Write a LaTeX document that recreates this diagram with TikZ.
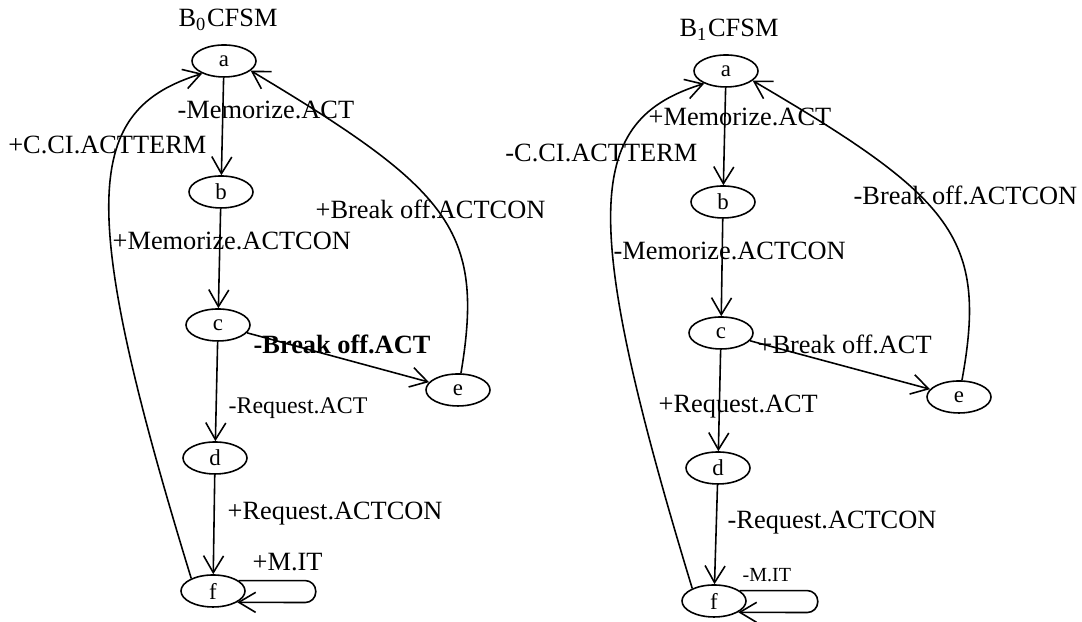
\documentclass[tikz,border=0pt]{standalone}
\usepackage{fontspec}
\setmainfont{Liberation Serif}
\usetikzlibrary{shapes.geometric,arrows.meta}

\tikzset{
  state/.style={ellipse, draw, line width=0.45pt, minimum width=0.64cm,
    minimum height=0.32cm, inner sep=0pt, font=\fontsize{6.5}{7}\selectfont},
  lbl/.style={anchor=base west, inner sep=0pt, font=\fontsize{7.5}{9}\selectfont},
  trans/.style={-{Straight Barb[length=4.8pt,width=5.7pt]}, line width=0.45pt},
}

\begin{document}
\begin{tikzpicture}
        \useasboundingbox (0,0) rectangle (10.82,6.22);
        % B0 machine
        \node[lbl, anchor=base] (t0) at (2.28, 5.95) {B\textsubscript{0}CFSM};
        \node[state] (a0) at (2.24, 5.61) {a};
        \node[state] (b0) at (2.21, 4.30) {b};
        \node[state] (c0) at (2.18, 2.97) {c};
        \node[state] (d0) at (2.15, 1.64) {d};
        \node[state] (f0) at (2.13, 0.31) {f};
        \node[state] (e0) at (4.58, 2.32) {e};
        \node[lbl] (l01) at (1.77, 5.03) {-Memorize.ACT};
        \node[lbl, anchor=base east] (l02) at (2.07, 4.68) {+C.CI.ACTTERM};
        \node[lbl] (l03) at (3.15, 4.03) {+Break off.ACTCON};
        \node[lbl] (l04) at (1.12, 3.72) {+Memorize.ACTCON};
        \node[lbl, font=\fontsize{7.5}{9}\selectfont\bfseries] (l05) at (2.53, 2.68) {-Break off.ACT};
        \node[lbl, font=\fontsize{6.8}{8}\selectfont] (l06) at (2.28, 2.08) {-Request.ACT};
        \node[lbl] (l07) at (2.27, 1.02) {+Request.ACTCON};
        \node[lbl] (l08) at (2.52, 0.51) {+M.IT};
        \draw[trans] (a0) -- (b0);
        \draw[trans] (b0) -- (c0);
        \draw[trans] (c0) -- (d0);
        \draw[trans] (d0) -- (f0);
        \draw[trans] (c0) -- (e0);
        \draw[trans] (e0.80) .. controls (4.85, 3.92) and (4.50, 4.32) .. (a0.-20);
        \draw[trans] (f0.150) .. controls (0.75, 4.22) and (0.85, 5.12) .. (a0.210);
        \draw[trans, rounded corners=3pt] (f0.22) -- ++(0.77, 0) -- ++(0, -0.22) -- (f0.-25);
        % B1 machine
        \node[lbl, anchor=base] (t1) at (7.29, 5.85) {B\textsubscript{1}CFSM};
        \node[state] (a1) at (7.26, 5.51) {a};
        \node[state] (b1) at (7.23, 4.20) {b};
        \node[state] (c1) at (7.21, 2.89) {c};
        \node[state] (d1) at (7.18, 1.54) {d};
        \node[state] (f1) at (7.14, 0.21) {f};
        \node[state] (e1) at (9.59, 2.25) {e};
        \node[lbl] (l11) at (6.48, 4.96) {+Memorize.ACT};
        \node[lbl, anchor=base east] (l12) at (6.98, 4.60) {-C.CI.ACTTERM};
        \node[lbl] (l13) at (8.53, 4.17) {-Break off.ACTCON};
        \node[lbl] (l14) at (6.13, 3.62) {-Memorize.ACTCON};
        \node[lbl] (l15) at (7.57, 2.68) {+Break off.ACT};
        \node[lbl] (l16) at (6.58, 2.09) {+Request.ACT};
        \node[lbl] (l17) at (7.27, 0.93) {-Request.ACTCON};
        \node[lbl, font=\fontsize{5.7}{7}\selectfont] (l18) at (7.42, 0.40) {-M.IT};
        \draw[trans] (a1) -- (b1);
        \draw[trans] (b1) -- (c1);
        \draw[trans] (c1) -- (d1);
        \draw[trans] (d1) -- (f1);
        \draw[trans] (c1) -- (e1);
        \draw[trans] (e1.80) .. controls (9.88, 3.84) and (9.53, 4.24) .. (a1.-20);
        \draw[trans] (f1.150) .. controls (5.77, 4.12) and (5.87, 5.02) .. (a1.210);
        \draw[trans, rounded corners=3pt] (f1.22) -- ++(0.78, 0) -- ++(0, -0.22) -- (f1.-25);
\end{tikzpicture}
\end{document}
